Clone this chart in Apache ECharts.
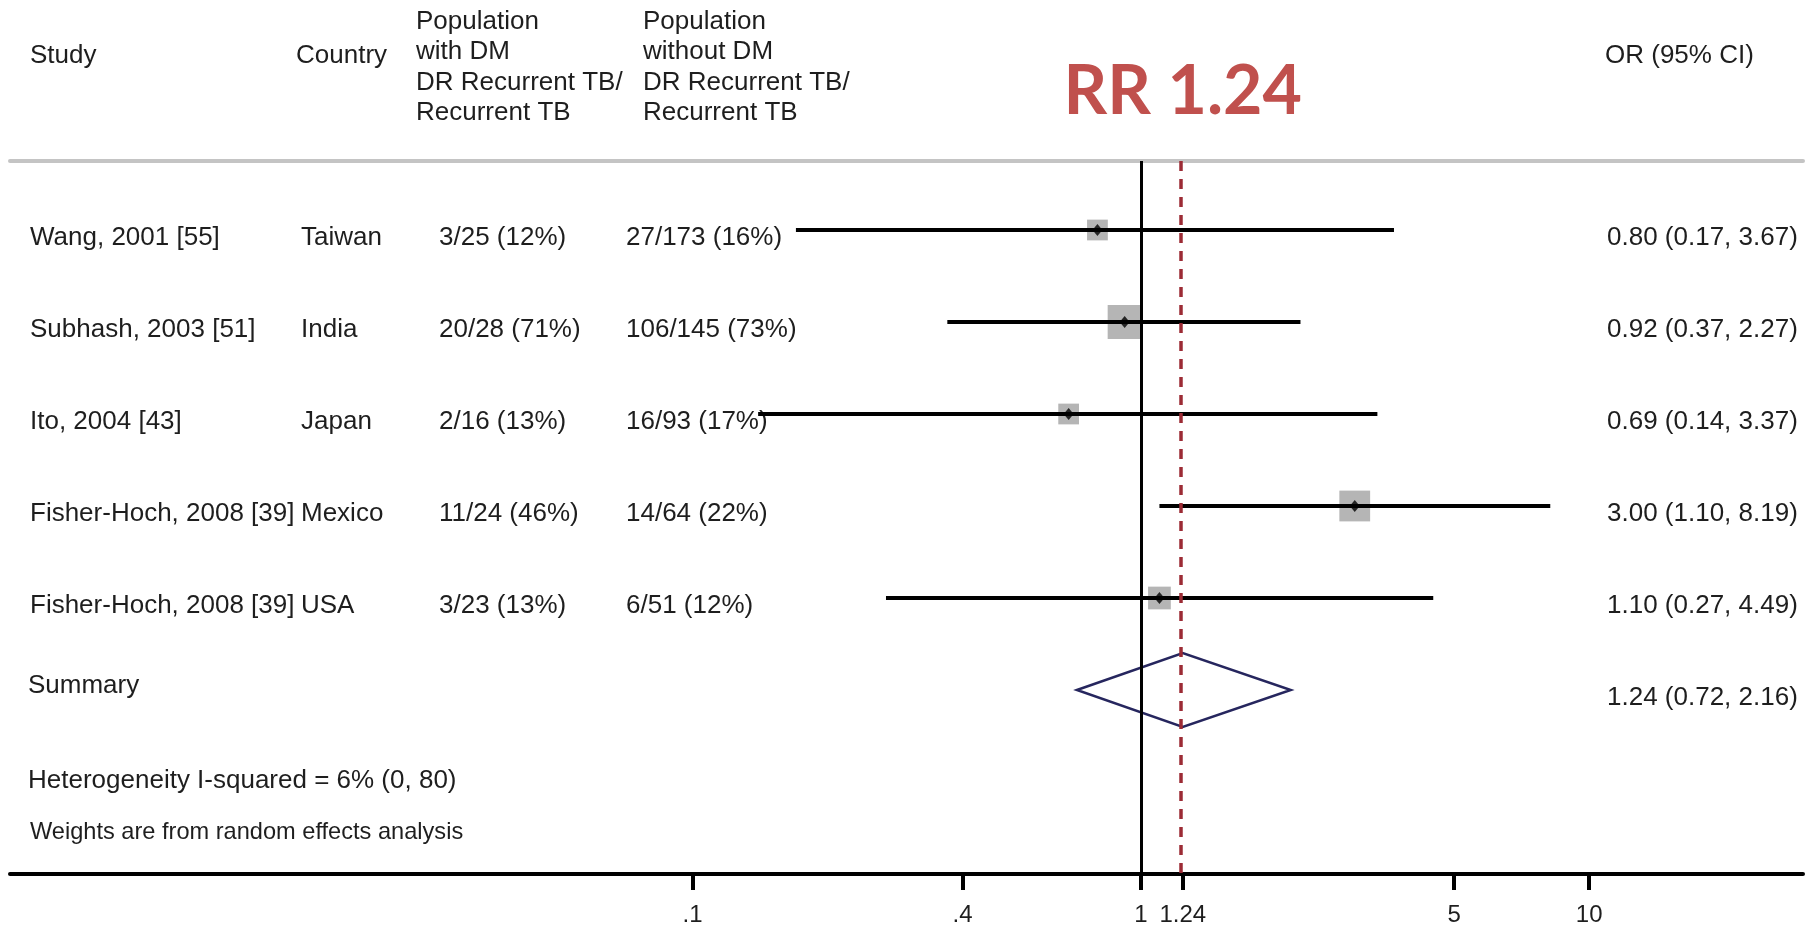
<!DOCTYPE html>
<html>
<head>
<meta charset="utf-8">
<script src="https://cdn.jsdelivr.net/npm/echarts@6/dist/echarts.min.js"></script>
<style>
html,body{margin:0;padding:0;background:#fff;}
#chart{width:1811px;height:928px;}
</style>
</head>
<body>
<div id="chart"></div>
<script>
// ---------- data ----------
const studies = ['Wang, 2001 [55]', 'Subhash, 2003 [51]', 'Ito, 2004 [43]', 'Fisher-Hoch, 2008 [39]', 'Fisher-Hoch, 2008 [39]'];
const countries = ['Taiwan', 'India', 'Japan', 'Mexico', 'USA'];
const withDM = ['3/25 (12%)', '20/28 (71%)', '2/16 (13%)', '11/24 (46%)', '3/23 (13%)'];
const withoutDM = ['27/173 (16%)', '106/145 (73%)', '16/93 (17%)', '14/64 (22%)', '6/51 (12%)'];
const orValues = [0.80, 0.92, 0.69, 3.00, 1.10];
const ciLow = [0.17, 0.37, 0.14, 1.10, 0.27];
const ciHigh = [3.67, 2.27, 3.37, 8.19, 4.49];
const weights = [12.5, 33.5, 12.5, 27.5, 15.0];
const summaryOR = 1.24;
const summaryLow = 0.72;
const summaryHigh = 2.16;
const iSquared = 6, iSquaredLow = 0, iSquaredHigh = 80;
const tickValues = [0.1, 0.4, 1, 1.24, 5, 10];
const tickLabels = ['.1', '.4', '1', '1.24', '5', '10'];
const axisMin = 0.003, axisMax = 30;

// ---------- helpers ----------
const L = v => Math.log10(v);
const FF = '"Liberation Sans", Arial, sans-serif';
const TXT = '#1e1e1e';
const SUMMARY_ROW = studies.length;
const f2 = v => v.toFixed(2);
const orText = (o, lo, hi) => `${f2(o)} (${f2(lo)}, ${f2(hi)})`;
const txt = (x, y, t, size, extra) => Object.assign({
  type: 'text', x: x, y: y,
  style: Object.assign({ text: t, fill: TXT, fontSize: size || 26, fontFamily: FF, align: 'left', verticalAlign: 'middle' }, extra || {})
});

const chart = echarts.init(document.getElementById('chart'), null, { renderer: 'canvas' });

const option = {
  animation: false,
  backgroundColor: '#fff',
  grid: { left: 10, right: 8, top: 161, bottom: 54 },
  xAxis: [{
    type: 'value', min: L(axisMin), max: L(axisMax), position: 'bottom',
    axisLine: { show: true, onZero: false, lineStyle: { color: '#000', width: 4 } },
    axisTick: { show: true, customValues: tickValues.map(L), length: 16, lineStyle: { color: '#000', width: 4 } },
    axisLabel: {
      show: true, customValues: tickValues.map(L), margin: 29, fontSize: 24, fontFamily: FF, color: TXT,
      formatter: v => { const i = tickValues.findIndex(t => Math.abs(L(t) - v) < 1e-6); return i >= 0 ? tickLabels[i] : ''; }
    },
    splitLine: { show: false }
  }, {
    type: 'value', min: L(axisMin), max: L(axisMax), position: 'top',
    axisLine: { show: true, onZero: false, lineStyle: { color: '#c4c4c4', width: 4 } },
    axisTick: { show: false }, axisLabel: { show: false }, splitLine: { show: false }
  }],
  yAxis: { type: 'value', inverse: true, min: -0.75, max: 7, show: false },
  graphic: [
    txt(30, 56, 'Study'),
    txt(296, 56, 'Country'),
    txt(416, 21.5, 'Population'), txt(416, 52, 'with DM'), txt(416, 82.5, 'DR Recurrent TB/'), txt(416, 113, 'Recurrent TB'),
    txt(643, 21.5, 'Population'), txt(643, 52, 'without DM'), txt(643, 82.5, 'DR Recurrent TB/'), txt(643, 113, 'Recurrent TB'),
    txt(1605, 56, 'OR (95% CI)'),
    txt(28, 781, `Heterogeneity I-squared = ${iSquared}% (${iSquaredLow}, ${iSquaredHigh})`),
    txt(30, 832, 'Weights are from random effects analysis', 23.6)
  ],
  series: [
    { // table text per study
      type: 'custom', name: 'table', silent: true,
      data: studies.map((s, i) => [0, i]),
      renderItem: (params, api) => {
        const i = params.dataIndex;
        const y = api.coord([0, api.value(1)])[1] + 8;
        return {
          type: 'group', children: [
            txt(30, y, studies[i]), txt(301, y, countries[i]), txt(439, y, withDM[i]),
            txt(626, y, withoutDM[i]), txt(1607, y, orText(orValues[i], ciLow[i], ciHigh[i]))
          ]
        };
      }
    },
    { // summary text + RR title
      type: 'custom', name: 'summaryText', silent: true,
      data: [[L(summaryOR), SUMMARY_ROW]],
      renderItem: (params, api) => {
        const c = api.coord([api.value(0), api.value(1)]);
        return {
          type: 'group', children: [
            txt(28, c[1] - 4, 'Summary'),
            txt(1607, c[1] + 7.5, orText(summaryOR, summaryLow, summaryHigh)),
            txt(c[0], 92, 'RR ' + f2(summaryOR), 68, { fill: '#c0504d', fontWeight: 'bold', fontFamily: 'Lato, "Open Sans", sans-serif', align: 'center' })
          ]
        };
      }
    },
    { // weight boxes
      type: 'custom', name: 'boxes', silent: true,
      data: orValues.map((v, i) => [L(v), i, weights[i]]),
      renderItem: (params, api) => {
        const c = api.coord([api.value(0), api.value(1)]);
        const s = 5.87 * Math.sqrt(api.value(2));
        return { type: 'rect', shape: { x: c[0] - s / 2, y: c[1] - s / 2, width: s, height: s }, style: { fill: '#b5b5b5' } };
      }
    },
    { // confidence intervals
      type: 'custom', name: 'ci', silent: true,
      data: ciLow.map((v, i) => [L(v), L(ciHigh[i]), i]),
      renderItem: (params, api) => {
        const a = api.coord([api.value(0), api.value(2)]);
        const b = api.coord([api.value(1), api.value(2)]);
        return { type: 'line', shape: { x1: a[0], y1: a[1], x2: b[0], y2: b[1] }, style: { stroke: '#000', lineWidth: 4 } };
      },
      markLine: {
        silent: true, symbol: 'none', label: { show: false },
        data: [
          { xAxis: L(1), lineStyle: { color: '#000', width: 3, type: 'solid' } },
          { xAxis: L(summaryOR), lineStyle: { color: '#9c2b35', width: 3.5, type: [10, 8] } }
        ]
      }
    },
    { // point estimates
      type: 'scatter', name: 'or', silent: true,
      data: orValues.map((v, i) => [L(v), i]),
      symbol: 'diamond', symbolSize: [10, 12], itemStyle: { color: '#000' }, z: 4
    },
    { // summary diamond
      type: 'custom', name: 'summary', silent: true,
      data: [[L(summaryLow), L(summaryOR), L(summaryHigh), SUMMARY_ROW]],
      renderItem: (params, api) => {
        const row = api.value(3);
        const y = api.coord([0, row])[1];
        const xl = api.coord([api.value(0), row])[0];
        const xm = api.coord([api.value(1), row])[0];
        const xh = api.coord([api.value(2), row])[0];
        return {
          type: 'polygon', shape: { points: [[xl, y], [xm, y - 37], [xh, y], [xm, y + 37]] },
          style: { fill: 'none', stroke: '#26265e', lineWidth: 2.5 }
        };
      }
    }
  ]
};
chart.setOption(option);
</script>
</body>
</html>
